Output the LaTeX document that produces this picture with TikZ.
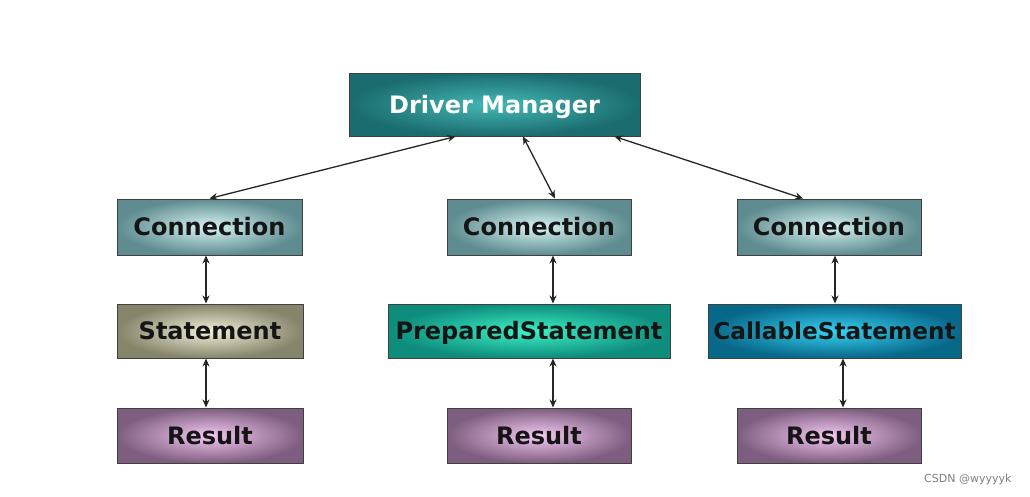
\documentclass[tikz,border=0pt]{standalone}
\usepackage{fontspec}
\setmainfont{DejaVu Sans}
\usetikzlibrary{arrows.meta,shadings}
\definecolor{dmout}{HTML}{1B6C6E}
\definecolor{dmin}{HTML}{45B8B6}
\definecolor{cnout}{HTML}{5E8C90}
\definecolor{cnin}{HTML}{D8F4F2}
\definecolor{stout}{HTML}{86846A}
\definecolor{stin}{HTML}{F2F0D8}
\definecolor{psout}{HTML}{0E8C7C}
\definecolor{psin}{HTML}{3CF2C6}
\definecolor{csout}{HTML}{08688A}
\definecolor{csin}{HTML}{36D2F2}
\definecolor{rsout}{HTML}{7E5E80}
\definecolor{rsin}{HTML}{F4C8F2}
\definecolor{txt}{HTML}{151515}
\tikzset{
  box/.style={draw=black!75, line width=1pt, inner sep=0pt, rectangle,
    text height=17.5pt, text depth=0pt,
    font=\fontsize{24}{28}\selectfont\bfseries, text=txt},
  dmbox/.style={box, inner color=dmin, outer color=dmout, text=white},
  cnbox/.style={box, inner color=cnin, outer color=cnout},
  stbox/.style={box, inner color=stin, outer color=stout},
  psbox/.style={box, inner color=psin, outer color=psout},
  csbox/.style={box, inner color=csin, outer color=csout},
  rsbox/.style={box, inner color=rsin, outer color=rsout},
  link/.style={{Stealth[length=8pt,width=7pt]}-{Stealth[length=8pt,width=7pt]}, line width=1.3pt, black!85}
}
\begin{document}
\begin{tikzpicture}[x=1pt,y=-1pt]
\useasboundingbox[fill=white] (0,0) rectangle (1030,496);
\node[dmbox, minimum width=291, minimum height=63] (dm) at (494.5,104.5) {Driver Manager};
\node[cnbox, minimum width=185, minimum height=56] (c1) at (209.5,227) {Connection};
\node[cnbox, minimum width=184, minimum height=56] (c2) at (539,227) {Connection};
\node[cnbox, minimum width=184, minimum height=56] (c3) at (829,227) {Connection};
\node[stbox, minimum width=186, minimum height=54] (s1) at (210,331) {Statement};
\node[psbox, minimum width=282, minimum height=54] (s2) at (529,331) {PreparedStatement};
\node[csbox, minimum width=253, minimum height=54, font=\fontsize{23.2}{28}\selectfont\bfseries] (s3) at (834.5,331) {CallableStatement};
\node[rsbox, minimum width=186, minimum height=55] (r1) at (210,435.5) {Result};
\node[rsbox, minimum width=184, minimum height=55] (r2) at (539,435.5) {Result};
\node[rsbox, minimum width=184, minimum height=55] (r3) at (829,435.5) {Result};
\node[text=black!50, font=\fontsize{11}{13}\selectfont, anchor=east] (wm) at (1015,479) {CSDN @wyyyyk};
% connectors
\draw[link] ([xshift=-39]dm.south) -- (c1.north);
\draw[link] ([xshift=28.5]dm.south) -- ([xshift=16]c2.north);
\draw[link] ([xshift=120]dm.south) -- ([xshift=-26]c3.north);
\draw[link] ([xshift=-3.5]c1.south) -- ([xshift=-3.5]c1.south |- s1.north);
\draw[link] ([xshift=-4]s1.south) -- ([xshift=-4]s1.south |- r1.north);
\draw[link] ([xshift=14]c2.south) -- ([xshift=14]c2.south |- s2.north);
\draw[link] ([xshift=14]r2.north |- s2.south) -- ([xshift=14]r2.north);
\draw[link] ([xshift=6]c3.south) -- ([xshift=6]c3.south |- s3.north);
\draw[link] ([xshift=14]r3.north |- s3.south) -- ([xshift=14]r3.north);
\end{tikzpicture}
\end{document}
